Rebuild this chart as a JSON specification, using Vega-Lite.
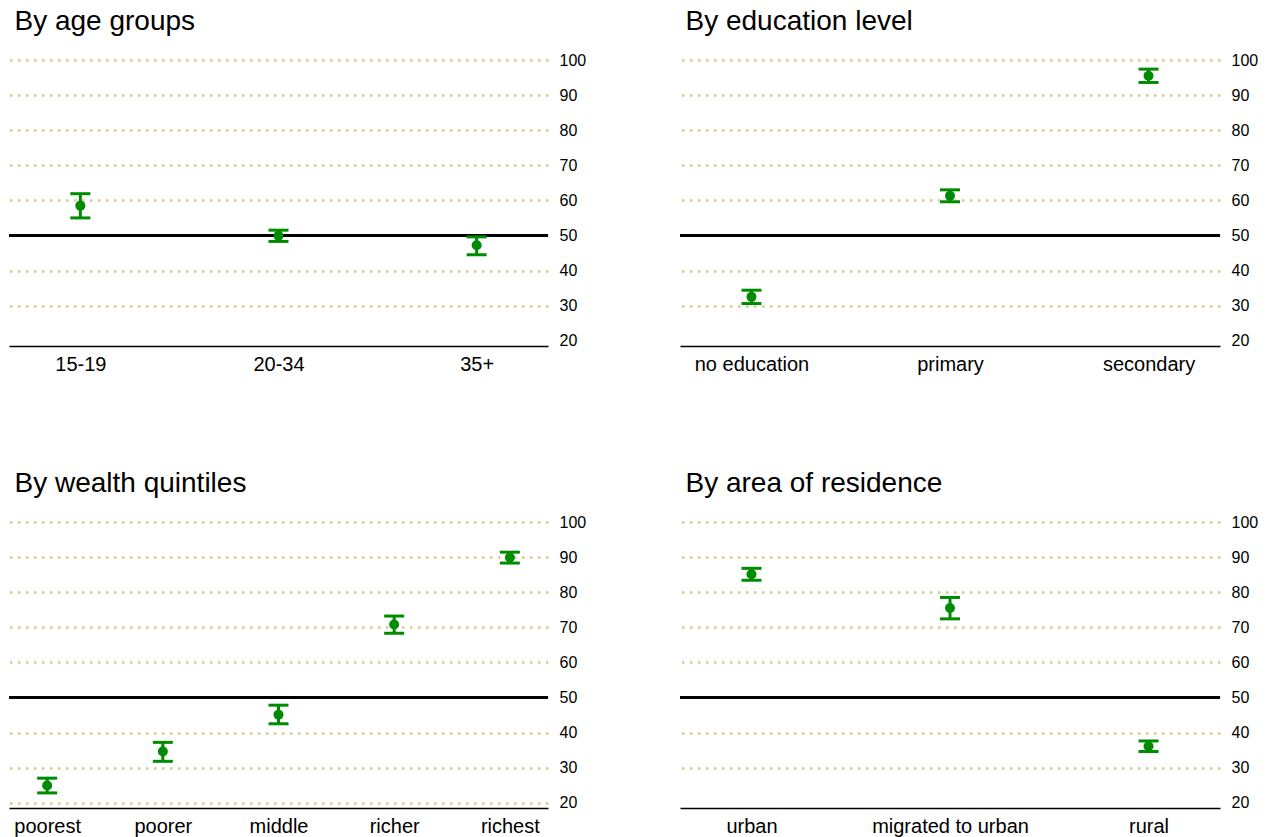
{
  "$schema": "https://vega.github.io/schema/vega-lite/v6.json",
  "background": "white",
  "padding": {"left": 7, "top": 8, "right": 5, "bottom": 5},
  "bounds": "flush",
  "columns": 2,
  "spacing": {"row": 176, "column": 132},
  "config": {
    "font": "Liberation Sans",
    "view": {"stroke": null},
    "title": {"fontSize": 28, "fontWeight": "normal", "anchor": "start", "color": "black", "offset": 16, "dx": 7, "baseline": "alphabetic"},
    "axisX": {"domain": true, "domainColor": "black", "domainWidth": 1.5, "ticks": false, "grid": false, "labelFontSize": 20, "labelColor": "black", "labelPadding": 8, "labelAngle": 0, "title": null},
    "axisY": {"domain": false, "ticks": false, "grid": true, "gridColor": "#d6ca8a", "gridDash": [2.5, 5.5], "gridWidth": 2.5, "labelFontSize": 16, "labelColor": "black", "labelPadding": 11, "title": null, "labelOverlap": false, "tickCount": 9}
  },
  "datasets": {
    "age": [
      {"group": "15-19", "value": 58.5, "lo": 55.0, "hi": 61.9},
      {"group": "20-34", "value": 49.9, "lo": 48.3, "hi": 51.5},
      {"group": "35+", "value": 47.2, "lo": 44.5, "hi": 49.6}
    ],
    "edu": [
      {"group": "no education", "value": 32.5, "lo": 30.6, "hi": 34.4},
      {"group": "primary", "value": 61.3, "lo": 59.6, "hi": 63.0},
      {"group": "secondary", "value": 95.5, "lo": 93.6, "hi": 97.4}
    ],
    "wealth": [
      {"group": "poorest", "value": 24.9, "lo": 22.8, "hi": 27.0},
      {"group": "poorer", "value": 34.6, "lo": 31.8, "hi": 37.2},
      {"group": "middle", "value": 45.1, "lo": 42.5, "hi": 47.8},
      {"group": "richer", "value": 70.8, "lo": 68.3, "hi": 73.2},
      {"group": "richest", "value": 89.9, "lo": 88.3, "hi": 91.4}
    ],
    "area": [
      {"group": "urban", "value": 85.1, "lo": 83.4, "hi": 86.8},
      {"group": "migrated to urban", "value": 75.5, "lo": 72.4, "hi": 78.5},
      {"group": "rural", "value": 36.1, "lo": 34.6, "hi": 37.6}
    ]
  },
  "concat": [
    {
      "title": "By age groups",
      "width": 539, "height": 286,
      "data": {"name": "age"},
      "layer": [
        {"mark": {"type": "rule", "color": "black", "strokeWidth": 3},
         "encoding": {"y": {"datum": 50, "type": "quantitative", "scale": {"domain": [18.5, 100], "nice": false, "zero": false}, "axis": {"orient": "right", "values": [20, 30, 40, 50, 60, 70, 80, 90, 100], "gridOpacity": {"condition": {"test": "datum.value === 20", "value": 0}, "value": 1}}, "title": null}}},
        {"mark": {"type": "rule", "color": "#008c00", "strokeWidth": 3, "opacity": 1},
         "encoding": {"x": {"field": "group", "type": "nominal", "sort": null, "scale": {"type": "point", "padding": 0.36}}, "y": {"field": "lo", "type": "quantitative", "axis": {"orient": "right", "values": [20, 30, 40, 50, 60, 70, 80, 90, 100], "gridOpacity": {"condition": {"test": "datum.value === 20", "value": 0}, "value": 1}}, "title": null}, "y2": {"field": "hi"}}},
        {"mark": {"type": "tick", "color": "#008c00", "thickness": 3, "size": 20, "opacity": 1},
         "encoding": {"x": {"field": "group", "type": "nominal", "sort": null}, "y": {"field": "lo", "type": "quantitative", "axis": {"orient": "right", "values": [20, 30, 40, 50, 60, 70, 80, 90, 100], "gridOpacity": {"condition": {"test": "datum.value === 20", "value": 0}, "value": 1}}, "title": null}}},
        {"mark": {"type": "tick", "color": "#008c00", "thickness": 3, "size": 20, "opacity": 1},
         "encoding": {"x": {"field": "group", "type": "nominal", "sort": null}, "y": {"field": "hi", "type": "quantitative", "axis": {"orient": "right", "values": [20, 30, 40, 50, 60, 70, 80, 90, 100], "gridOpacity": {"condition": {"test": "datum.value === 20", "value": 0}, "value": 1}}, "title": null}}},
        {"mark": {"type": "point", "filled": true, "color": "#008c00", "opacity": 1, "size": 100},
         "encoding": {"x": {"field": "group", "type": "nominal", "sort": null}, "y": {"field": "value", "type": "quantitative", "axis": {"orient": "right", "values": [20, 30, 40, 50, 60, 70, 80, 90, 100], "gridOpacity": {"condition": {"test": "datum.value === 20", "value": 0}, "value": 1}}, "title": null}}}
      ]
    },
    {
      "title": "By education level",
      "width": 540, "height": 286,
      "data": {"name": "edu"},
      "layer": [
        {"mark": {"type": "rule", "color": "black", "strokeWidth": 3},
         "encoding": {"y": {"datum": 50, "type": "quantitative", "scale": {"domain": [18.5, 100], "nice": false, "zero": false}, "axis": {"orient": "right", "values": [20, 30, 40, 50, 60, 70, 80, 90, 100], "gridOpacity": {"condition": {"test": "datum.value === 20", "value": 0}, "value": 1}}, "title": null}}},
        {"mark": {"type": "rule", "color": "#008c00", "strokeWidth": 3, "opacity": 1},
         "encoding": {"x": {"field": "group", "type": "nominal", "sort": null, "scale": {"type": "point", "padding": 0.36}}, "y": {"field": "lo", "type": "quantitative", "axis": {"orient": "right", "values": [20, 30, 40, 50, 60, 70, 80, 90, 100], "gridOpacity": {"condition": {"test": "datum.value === 20", "value": 0}, "value": 1}}, "title": null}, "y2": {"field": "hi"}}},
        {"mark": {"type": "tick", "color": "#008c00", "thickness": 3, "size": 20, "opacity": 1},
         "encoding": {"x": {"field": "group", "type": "nominal", "sort": null}, "y": {"field": "lo", "type": "quantitative", "axis": {"orient": "right", "values": [20, 30, 40, 50, 60, 70, 80, 90, 100], "gridOpacity": {"condition": {"test": "datum.value === 20", "value": 0}, "value": 1}}, "title": null}}},
        {"mark": {"type": "tick", "color": "#008c00", "thickness": 3, "size": 20, "opacity": 1},
         "encoding": {"x": {"field": "group", "type": "nominal", "sort": null}, "y": {"field": "hi", "type": "quantitative", "axis": {"orient": "right", "values": [20, 30, 40, 50, 60, 70, 80, 90, 100], "gridOpacity": {"condition": {"test": "datum.value === 20", "value": 0}, "value": 1}}, "title": null}}},
        {"mark": {"type": "point", "filled": true, "color": "#008c00", "opacity": 1, "size": 100},
         "encoding": {"x": {"field": "group", "type": "nominal", "sort": null}, "y": {"field": "value", "type": "quantitative", "axis": {"orient": "right", "values": [20, 30, 40, 50, 60, 70, 80, 90, 100], "gridOpacity": {"condition": {"test": "datum.value === 20", "value": 0}, "value": 1}}, "title": null}}}
      ]
    },
    {
      "title": "By wealth quintiles",
      "width": 539, "height": 286,
      "data": {"name": "wealth"},
      "layer": [
        {"mark": {"type": "rule", "color": "black", "strokeWidth": 3},
         "encoding": {"y": {"datum": 50, "type": "quantitative", "scale": {"domain": [18.5, 100], "nice": false, "zero": false}, "axis": {"orient": "right", "values": [20, 30, 40, 50, 60, 70, 80, 90, 100]}, "title": null}}},
        {"mark": {"type": "rule", "color": "#008c00", "strokeWidth": 3, "opacity": 1},
         "encoding": {"x": {"field": "group", "type": "nominal", "sort": null, "scale": {"type": "point", "padding": 0.33}}, "y": {"field": "lo", "type": "quantitative", "axis": {"orient": "right", "values": [20, 30, 40, 50, 60, 70, 80, 90, 100]}, "title": null}, "y2": {"field": "hi"}}},
        {"mark": {"type": "tick", "color": "#008c00", "thickness": 3, "size": 20, "opacity": 1},
         "encoding": {"x": {"field": "group", "type": "nominal", "sort": null}, "y": {"field": "lo", "type": "quantitative", "axis": {"orient": "right", "values": [20, 30, 40, 50, 60, 70, 80, 90, 100]}, "title": null}}},
        {"mark": {"type": "tick", "color": "#008c00", "thickness": 3, "size": 20, "opacity": 1},
         "encoding": {"x": {"field": "group", "type": "nominal", "sort": null}, "y": {"field": "hi", "type": "quantitative", "axis": {"orient": "right", "values": [20, 30, 40, 50, 60, 70, 80, 90, 100]}, "title": null}}},
        {"mark": {"type": "point", "filled": true, "color": "#008c00", "opacity": 1, "size": 100},
         "encoding": {"x": {"field": "group", "type": "nominal", "sort": null}, "y": {"field": "value", "type": "quantitative", "axis": {"orient": "right", "values": [20, 30, 40, 50, 60, 70, 80, 90, 100]}, "title": null}}}
      ]
    },
    {
      "title": "By area of residence",
      "width": 540, "height": 286,
      "data": {"name": "area"},
      "layer": [
        {"mark": {"type": "rule", "color": "black", "strokeWidth": 3},
         "encoding": {"y": {"datum": 50, "type": "quantitative", "scale": {"domain": [18.5, 100], "nice": false, "zero": false}, "axis": {"orient": "right", "values": [20, 30, 40, 50, 60, 70, 80, 90, 100], "gridOpacity": {"condition": {"test": "datum.value === 20", "value": 0}, "value": 1}}, "title": null}}},
        {"mark": {"type": "rule", "color": "#008c00", "strokeWidth": 3, "opacity": 1},
         "encoding": {"x": {"field": "group", "type": "nominal", "sort": null, "scale": {"type": "point", "padding": 0.36}}, "y": {"field": "lo", "type": "quantitative", "axis": {"orient": "right", "values": [20, 30, 40, 50, 60, 70, 80, 90, 100], "gridOpacity": {"condition": {"test": "datum.value === 20", "value": 0}, "value": 1}}, "title": null}, "y2": {"field": "hi"}}},
        {"mark": {"type": "tick", "color": "#008c00", "thickness": 3, "size": 20, "opacity": 1},
         "encoding": {"x": {"field": "group", "type": "nominal", "sort": null}, "y": {"field": "lo", "type": "quantitative", "axis": {"orient": "right", "values": [20, 30, 40, 50, 60, 70, 80, 90, 100], "gridOpacity": {"condition": {"test": "datum.value === 20", "value": 0}, "value": 1}}, "title": null}}},
        {"mark": {"type": "tick", "color": "#008c00", "thickness": 3, "size": 20, "opacity": 1},
         "encoding": {"x": {"field": "group", "type": "nominal", "sort": null}, "y": {"field": "hi", "type": "quantitative", "axis": {"orient": "right", "values": [20, 30, 40, 50, 60, 70, 80, 90, 100], "gridOpacity": {"condition": {"test": "datum.value === 20", "value": 0}, "value": 1}}, "title": null}}},
        {"mark": {"type": "point", "filled": true, "color": "#008c00", "opacity": 1, "size": 100},
         "encoding": {"x": {"field": "group", "type": "nominal", "sort": null}, "y": {"field": "value", "type": "quantitative", "axis": {"orient": "right", "values": [20, 30, 40, 50, 60, 70, 80, 90, 100], "gridOpacity": {"condition": {"test": "datum.value === 20", "value": 0}, "value": 1}}, "title": null}}}
      ]
    }
  ]
}
